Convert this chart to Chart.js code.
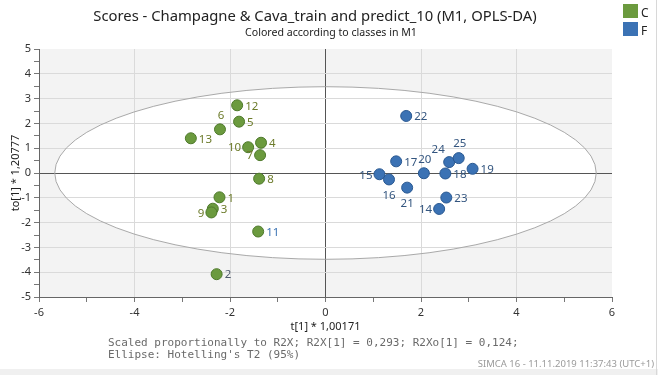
<!DOCTYPE html>
<html>
<head>
<meta charset="utf-8">
<script src="https://cdn.jsdelivr.net/npm/chart.js@4"></script>
<style>
  body { margin: 0; background: #fff; }
  #wrap { position: relative; width: 658px; height: 375px; overflow: hidden; font-family: "Noto Sans", sans-serif; }
  #wrap canvas { position: absolute; left: 0; top: 0; }
  .title { position: absolute; left: 0; width: 630px; text-align: center; color: #222; white-space: nowrap; }
  #t1 { top: 5px; font-size: 14.8px; }
  #t2 { top: 25px; left: 20px; width: 622px; font-size: 10.6px; }
  .legend { position: absolute; left: 623px; font-size: 12px; color: #222; }
  .legend span { display: inline-block; width: 15px; height: 14px; vertical-align: top; margin-right: 3px; }
  .note { position: absolute; left: 108px; font-family: "DejaVu Sans Mono", monospace; font-size: 11px; color: #6a6a6a; white-space: pre; }
  #foot { position: absolute; right: 4px; top: 357px; font-size: 9.5px; color: #9a9a9a; }
  #band { position: absolute; left: 0; top: 369px; width: 658px; height: 6px; background: #f0f0f0; }
  #edge { position: absolute; left: 656px; top: 0; width: 1px; height: 375px; background: #d8d8d8; }
</style>
</head>
<body>
<div id="wrap">
  <canvas id="chart" width="658" height="375"></canvas>
  <div class="title" id="t1">Scores - Champagne &amp; Cava_train and predict_10 (M1, OPLS-DA)</div>
  <div class="title" id="t2">Colored according to classes in M1</div>
  <div class="legend" style="top:4px"><span style="background:#6b9a3e"></span>C</div>
  <div class="legend" style="top:22px"><span style="background:#3b72b4"></span>F</div>
  <div class="note" style="top:336px">Scaled proportionally to R2X; R2X[1] = 0,293; R2Xo[1] = 0,124;</div>
  <div class="note" style="top:348px">Ellipse: Hotelling's T2 (95%)</div>
  <div id="foot">SIMCA 16 - 11.11.2019 11:37:43 (UTC+1)</div>
  <div id="band"></div>
  <div id="edge"></div>
</div>
<script>
// class C observations
const cNames = ['1', '2', '3', '4', '5', '6', '7', '8', '9', '10', '11', '12', '13'];
const cX = [-2.22, -2.28, -2.36, -1.35, -1.81, -2.21, -1.37, -1.39, -2.39, -1.62, -1.41, -1.85, -2.82];
const cY = [-0.98, -4.08, -1.44, 1.22, 2.07, 1.76, 0.72, -0.23, -1.59, 1.04, -2.36, 2.73, 1.40];

// class F observations
const fNames = ['14', '15', '16', '17', '18', '19', '20', '21', '22', '23', '24', '25'];
const fX = [2.38, 1.13, 1.33, 1.48, 2.51, 3.08, 2.06, 1.71, 1.69, 2.53, 2.59, 2.79];
const fY = [-1.45, -0.05, -0.26, 0.47, -0.02, 0.17, -0.01, -0.59, 2.30, -0.99, 0.44, 0.60];

// Hotelling's T2 ellipse half axes
const ellipseA = 5.67;
const ellipseB = 3.48;

// where each label sits relative to its point
const labelSide = { '6': 't', '7': 'l', '9': 'l', '10': 'l', '14': 'l', '15': 'l', '16': 'b', '20': 't', '21': 'b', '24': 'tl', '25': 't' };
const labelColor = { '11': '#3b73b3', '2': '#4f5a6e' };

const toPoints = (xs, ys) => xs.map((x, i) => ({ x: x, y: ys[i] }));

const backdrop = {
    id: 'backdrop',
    beforeDraw(chart) {
        const { ctx, chartArea: a, scales: { x, y } } = chart;
        ctx.save();
        ctx.fillStyle = '#f3f3f3';
        ctx.fillRect(a.left, a.top, a.right - a.left, a.bottom - a.top);
        ctx.beginPath();
        ctx.ellipse(x.getPixelForValue(0), y.getPixelForValue(0),
            x.getPixelForValue(ellipseA) - x.getPixelForValue(0),
            y.getPixelForValue(0) - y.getPixelForValue(ellipseB), 0, 0, Math.PI * 2);
        ctx.fillStyle = '#ffffff';
        ctx.fill();
        ctx.restore();
    },
    beforeDatasetsDraw(chart) {
        const { ctx, scales: { x, y } } = chart;
        ctx.save();
        ctx.beginPath();
        ctx.ellipse(x.getPixelForValue(0), y.getPixelForValue(0),
            x.getPixelForValue(ellipseA) - x.getPixelForValue(0),
            y.getPixelForValue(0) - y.getPixelForValue(ellipseB), 0, 0, Math.PI * 2);
        ctx.strokeStyle = '#a9a9a9';
        ctx.lineWidth = 1;
        ctx.stroke();
        ctx.restore();
    }
};

const pointLabels = {
    id: 'pointLabels',
    afterDatasetsDraw(chart) {
        const ctx = chart.ctx;
        ctx.save();
        ctx.font = '11.5px "Noto Sans", sans-serif';
        ctx.textBaseline = 'middle';
        chart.data.datasets.forEach((ds, di) => {
            const meta = chart.getDatasetMeta(di);
            meta.data.forEach((pt, i) => {
                const name = ds.names[i];
                const side = labelSide[name] || 'r';
                ctx.fillStyle = labelColor[name] || ds.labelColor;
                let px = pt.x + 8, py = pt.y + 1;
                ctx.textAlign = 'left';
                if (side === 'l') { ctx.textAlign = 'right'; px = pt.x - 7; }
                if (side === 't') { ctx.textAlign = 'center'; px = pt.x + 1; py = pt.y - 14; }
                if (side === 'b') { ctx.textAlign = 'center'; px = pt.x; py = pt.y + 16; }
                if (side === 'tl') { ctx.textAlign = 'center'; px = pt.x - 11; py = pt.y - 12; }
                ctx.fillText(name, px, py);
            });
        });
        ctx.restore();
    }
};

const tickFont = { family: '"Noto Sans", sans-serif', size: 11 };

new Chart(document.getElementById('chart'), {
    type: 'scatter',
    data: {
        datasets: [
            {
                label: 'C',
                names: cNames,
                labelColor: '#6c7b2a',
                data: toPoints(cX, cY),
                backgroundColor: '#6b9a3e',
                borderColor: '#4f7a2c',
                borderWidth: 1,
                pointRadius: 5.5
            },
            {
                label: 'F',
                names: fNames,
                labelColor: '#33557f',
                data: toPoints(fX, fY),
                backgroundColor: '#3b72b4',
                borderColor: '#2a5992',
                borderWidth: 1,
                pointRadius: 5.5
            }
        ]
    },
    options: {
        responsive: false,
        animation: false,
        layout: { padding: { left: 0, top: 49, right: 46, bottom: 33 } },
        plugins: {
            legend: { display: false },
            tooltip: { enabled: false }
        },
        scales: {
            x: {
                type: 'linear',
                min: -6,
                max: 6,
                afterFit: (s) => { s.height = 45; },
                border: { color: '#666' },
                grid: {
                    color: (c) => c.tick.value === 0 ? '#555' : (c.tick.value % 2 === 0 && Math.abs(c.tick.value) < 6 ? '#dadada' : 'rgba(0,0,0,0)'),
                    tickColor: '#777',
                    tickLength: 5
                },
                ticks: {
                    stepSize: 1,
                    autoSkip: false,
                    maxRotation: 0,
                    padding: 4,
                    color: '#333',
                    font: tickFont,
                    callback: (v) => v % 2 === 0 ? String(v) : ''
                },
                title: { display: true, text: 't[1] * 1,00171', color: '#222', font: tickFont, padding: { top: 0, bottom: 9 } }
            },
            y: {
                type: 'linear',
                min: -5,
                max: 5,
                afterFit: (s) => { s.width = 39; },
                border: { color: '#666' },
                grid: {
                    color: (c) => c.tick.value === 0 ? '#555' : (Number.isInteger(c.tick.value) && Math.abs(c.tick.value) < 5 ? '#dadada' : 'rgba(0,0,0,0)'),
                    tickColor: '#777',
                    tickLength: 5
                },
                ticks: {
                    stepSize: 0.5,
                    autoSkip: false,
                    padding: 3,
                    color: '#333',
                    font: tickFont,
                    callback: (v) => Number.isInteger(v) ? String(v) : ''
                },
                title: { display: true, text: 'to[1] * 1,20777', color: '#222', font: tickFont, padding: { top: 9, bottom: 0 } }
            }
        }
    },
    plugins: [backdrop, pointLabels]
});
</script>
</body>
</html>
